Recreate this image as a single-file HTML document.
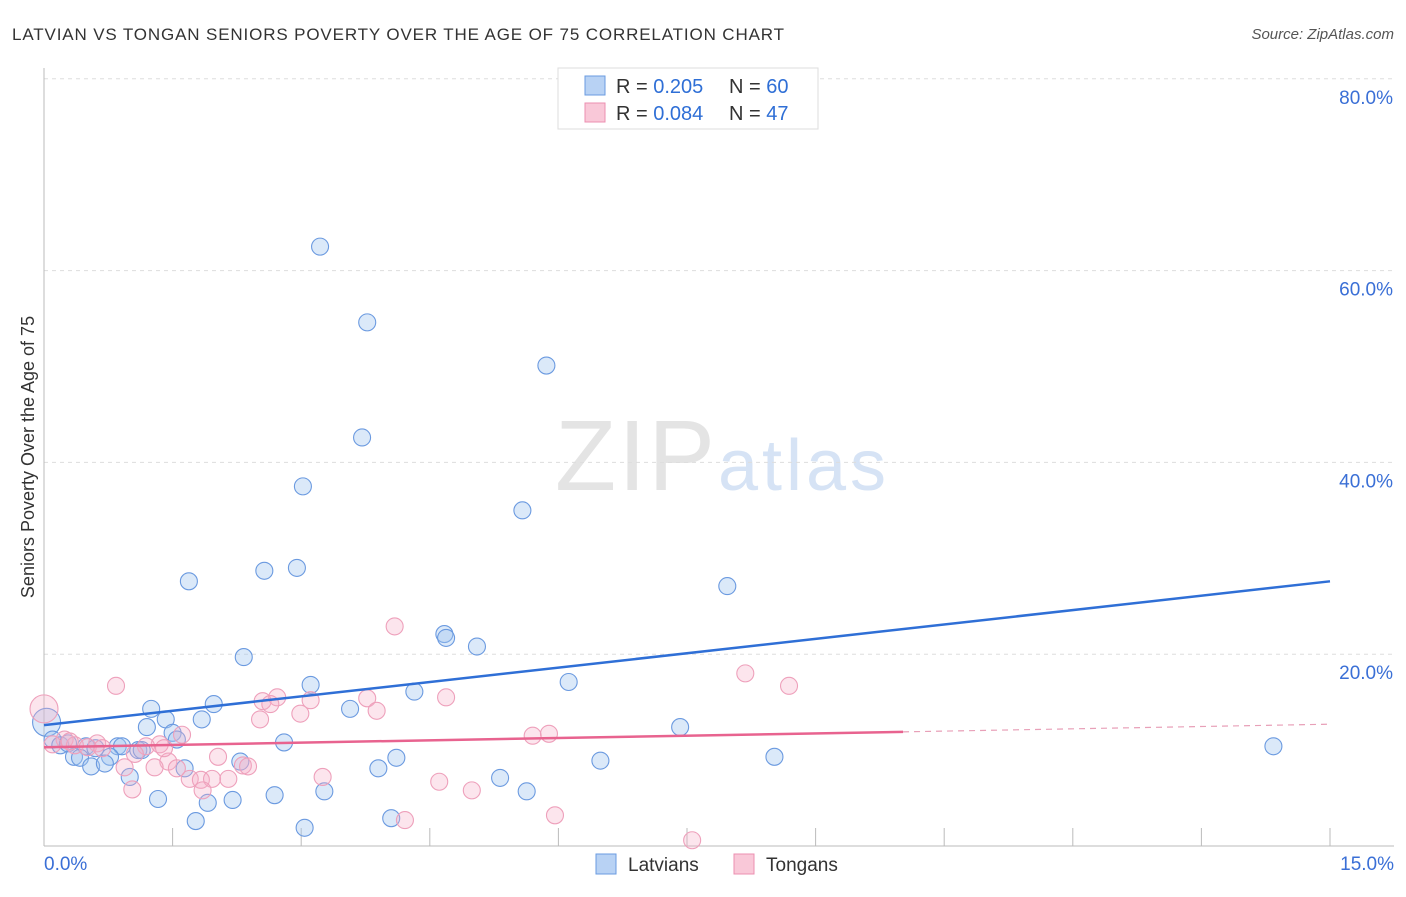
<!DOCTYPE html>
<html><head><meta charset="utf-8"><style>
body{margin:0;background:#fff;font-family:"Liberation Sans",sans-serif}
svg text{font-family:"Liberation Sans",sans-serif}
</style></head><body>
<svg id="c" width="1406" height="892">
<text x="12" y="40" font-size="17" fill="#333" textLength="772">LATVIAN VS TONGAN SENIORS POVERTY OVER THE AGE OF 75 CORRELATION CHART</text>
<text x="1394" y="39" font-size="15" fill="#555" text-anchor="end" font-style="italic">Source: ZipAtlas.com</text>
<text x="555" y="490" font-size="100" fill="#e4e4e4" textLength="160" font-family="Liberation Serif">ZIP</text>
<text x="718" y="490" font-size="72" fill="#d6e3f5" textLength="168">atlas</text>
<text transform="translate(34,457) rotate(-90)" font-size="18" fill="#333" text-anchor="middle">Seniors Poverty Over the Age of 75</text>
<g id="grid"></g><g id="pts"></g><g id="lines"></g>
<g>
<rect x="558" y="68" width="260" height="61" fill="#fff" stroke="#ddd"/>
<rect x="585" y="76" width="20" height="19" fill="#b8d2f4" stroke="#6a9be0"/>
<rect x="585" y="103" width="20" height="19" fill="#f9c8d8" stroke="#ec8fb0"/>
<text x="616" y="93" font-size="20" fill="#333">R = <tspan fill="#2f6fd6">0.205</tspan></text>
<text x="729" y="93" font-size="20" fill="#333">N = <tspan fill="#2f6fd6">60</tspan></text>
<text x="616" y="120" font-size="20" fill="#333">R = <tspan fill="#2f6fd6">0.084</tspan></text>
<text x="729" y="120" font-size="20" fill="#333">N = <tspan fill="#2f6fd6">47</tspan></text>
</g>
<g>
<rect x="596" y="854" width="20" height="20" fill="#b8d2f4" stroke="#6a9be0"/>
<text x="628" y="871" font-size="19" fill="#333">Latvians</text>
<rect x="734" y="854" width="20" height="20" fill="#f9c8d8" stroke="#ec8fb0"/>
<text x="766" y="871" font-size="19" fill="#333">Tongans</text>
</g>
</svg>
<script>
const yTicks=[20,40,60,80];
const xTickLabels=["0.0%","15.0%"];
const latX=[3.22,3.77,5.86,3.71,3.02,5.58,1.69,2.57,2.95,7.97,4.67,4.69,5.05,2.33,3.11,6.12,4.32,3.57,1.25,1.98,1.42,1.84,1.20,1.50,1.55,7.42,0.03,0.10,0.19,0.28,0.49,0.86,0.91,1.10,1.14,2.80,0.35,0.42,0.77,0.55,0.71,1.64,2.29,4.11,3.90,6.49,8.52,14.34,1.00,5.32,1.33,1.91,2.20,2.69,3.27,5.63,1.77,4.05,3.04,0.6];
const latY=[62.5,54.6,50.1,42.6,37.5,35.0,27.6,28.7,29.0,27.1,22.1,21.7,20.8,19.7,16.8,17.1,16.1,14.3,14.3,14.8,13.2,13.2,12.4,11.8,11.1,12.4,12.9,11.1,10.5,10.7,10.4,10.4,10.4,10.0,10.0,10.8,9.3,9.2,9.3,8.3,8.6,8.1,8.8,9.2,8.1,8.9,9.3,10.4,7.2,7.1,4.9,4.5,4.8,5.3,5.7,5.7,2.6,2.9,1.9,10.2];
const tonX=[0,0.84,4.09,8.18,8.69,2.55,2.72,2.64,3.11,3.77,4.69,3.88,2.52,2.99,1.61,5.70,5.89,0.24,0.62,0.36,0.51,0.68,1.35,1.19,1.06,2.03,1.45,1.29,0.94,1.55,2.32,2.38,1.70,1.83,1.96,2.15,3.25,4.61,1.03,1.85,4.99,4.21,5.96,7.56,0.1,0.3,1.4];
const tonY=[14.3,16.7,22.9,18.0,16.7,15.1,15.5,14.8,15.2,15.4,15.5,14.1,13.2,13.8,11.6,11.5,11.7,11.1,10.7,10.5,10.3,10.2,10.6,10.4,9.6,9.3,8.8,8.2,8.2,8.1,8.4,8.3,7.0,6.9,7.0,7.0,7.2,6.7,5.9,5.8,5.8,2.7,3.2,0.6,10.6,10.9,10.2];
const latTrend=[12.6,27.6];const tonTrend=[10.3,12.7];const tonSolidEnd=10.02;
const X=v=>44+v*(1286/15), Y=v=>846-v*9.59;
const NS="http://www.w3.org/2000/svg";
function mk(t,a,p){const e=document.createElementNS(NS,t);for(const k in a)e.setAttribute(k,a[k]);p.appendChild(e);return e;}
const g=document.getElementById('grid');
yTicks.forEach(t=>{const l=mk('line',{x1:44,x2:1394,y1:Y(t),y2:Y(t),stroke:'#ddd','stroke-dasharray':'4,4'},g);


const tx=mk('text',{x:1393,y:Y(t)+25,'font-size':19,fill:'#3a6fd6','text-anchor':'end'},g);tx.textContent=t.toFixed(1)+'%';

});
mk('line',{x1:44,x2:44,y1:68,y2:846,stroke:'#bbb'},g);
mk('line',{x1:44,x2:1394,y1:846,y2:846,stroke:'#bbb'},g);
for(let i=1;i<=10;i++){const t=mk('line',{x1:X(i*1.5),x2:X(i*1.5),y1:828,y2:846,stroke:'#bbb'},g);

}
[[0,'start',44],[15,'end',1394]].forEach((d,i)=>{const t=mk('text',{x:d[2],y:870,'font-size':19,fill:'#3a6fd6','text-anchor':d[1]},g);t.textContent=xTickLabels[i];

});
const p=document.getElementById('pts');
latX.forEach((x,i)=>{const c=mk('circle',{cx:X(x),cy:Y(latY[i]),r:i==26?14:8.5,fill:'rgba(160,196,240,0.38)',stroke:'#6b9ae0','stroke-width':1.1},p);

});
tonX.forEach((x,i)=>{const c=mk('circle',{cx:X(x),cy:Y(tonY[i]),r:i==0?14:8.5,fill:'rgba(245,175,198,0.32)',stroke:'#eea0bb','stroke-width':1.1},p);

});
const L=document.getElementById('lines');
let a=mk('line',{x1:X(0),y1:Y(latTrend[0]),x2:X(15),y2:Y(latTrend[1]),stroke:'#2f6fd6','stroke-width':2.5},L);


const ty=v=>tonTrend[0]+(tonTrend[1]-tonTrend[0])*v/15;
a=mk('line',{x1:X(0),y1:Y(ty(0)),x2:X(tonSolidEnd),y2:Y(ty(tonSolidEnd)),stroke:'#e8638f','stroke-width':2.5},L);


a=mk('line',{x1:X(tonSolidEnd),y1:Y(ty(tonSolidEnd)),x2:X(15),y2:Y(ty(15)),stroke:'#e8a0b8','stroke-width':1.2,'stroke-dasharray':'6,5'},L);


</script>
</body></html>
